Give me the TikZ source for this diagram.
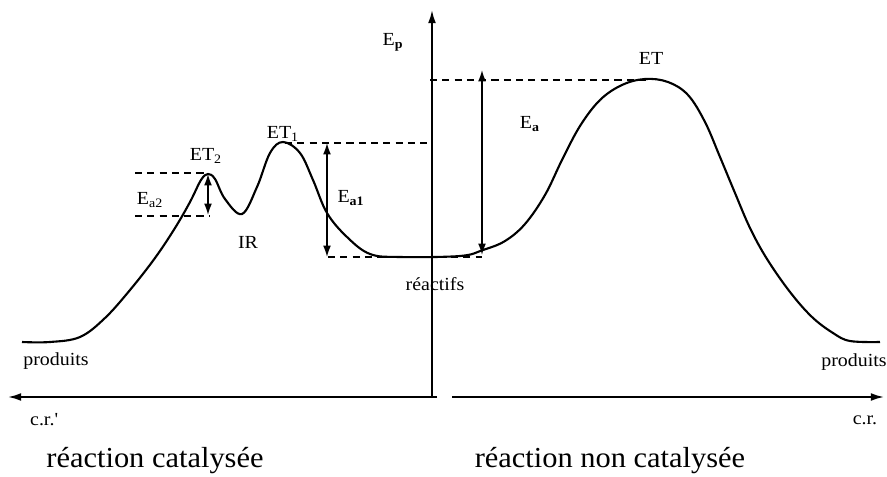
\documentclass[tikz,border=0pt]{standalone}
\usepackage{fontspec}
\setmainfont[FakeStretch=1.08]{Liberation Serif}
\newfontfamily\titrefont[FakeStretch=1.05]{Liberation Serif}
\usepackage{tikz}
\usetikzlibrary{arrows.meta}

\begin{document}
\begin{tikzpicture}[
    x=0.02cm, y=-0.02cm,
    lbl/.style={font=\fontsize{10.5}{12}\selectfont, inner sep=1pt},
    titre/.style={font=\titrefont\fontsize{16.5}{19}\selectfont, inner sep=1pt},
    axe/.style={line width=1.1pt, -{Latex[length=7.5pt,width=4.5pt]}},
    niveau/.style={line width=0.8pt, dash pattern=on 4pt off 3pt},
    barriere/.style={line width=0.9pt, {Latex[length=6.5pt,width=4.5pt]}-{Latex[length=6.5pt,width=4.5pt]}},
    courbe/.style={line width=1.2pt, smooth, tension=0.6}
  ]
  \useasboundingbox (0,0) rectangle (887,477);

  % Axes
  \coordinate (o) at (432,398);
  \coordinate (ytop) at (432,10);
  \coordinate (gd) at (437,397);
  \coordinate (gg) at (8,397);
  \coordinate (dd) at (452,397);
  \coordinate (df) at (884,397);
  \draw[axe] (o) -- (ytop);
  \draw[axe] (gd) -- (gg);
  \draw[axe] (dd) -- (df);

  % Profil d'energie
  \draw[courbe] plot coordinates {(22,342) (50,342) (80,337) (105,318) (130,290)
    (155,258) (175,228) (190,202) (201,180) (208,174) (215,179) (225,199)
    (242,214) (257,187) (270,153) (283,142) (300,153) (313,180) (327,213)
    (347,237) (370,254) (400,257) (460,256) (483,250) (505,241) (525,224)
    (545,195) (562,160) (580,126) (600,100) (622,85) (645,79) (668,82)
    (688,95) (705,122) (720,157) (735,193) (750,228) (767,259) (790,292)
    (812,317) (833,333) (850,341) (880,342)};

  % Niveaux
  \coordinate (et2g) at (135,173);
  \coordinate (et2) at (208,173);
  \coordinate (irg) at (135,216);
  \coordinate (ir) at (210,216);
  \coordinate (et1) at (285,143);
  \coordinate (et1d) at (428,143);
  \coordinate (reg) at (328,257);
  \coordinate (red) at (482,257);
  \coordinate (etg) at (430,80);
  \coordinate (et) at (648,80);
  \draw[niveau] (et2g) -- (et2);
  \draw[niveau] (irg) -- (ir);
  \draw[niveau] (et1) -- (et1d);
  \draw[niveau] (reg) -- (red);
  \draw[niveau] (etg) -- (et);

  % Energies d'activation
  \coordinate (ea2h) at (208,174);
  \coordinate (ea2b) at (208,215);
  \coordinate (ea1h) at (327,143);
  \coordinate (ea1b) at (327,257);
  \coordinate (eah) at (482,70);
  \coordinate (eab) at (482,255);
  \draw[barriere] (ea2h) -- (ea2b);
  \draw[barriere] (ea1h) -- (ea1b);
  \draw[barriere] (eah) -- (eab);

  % Etiquettes
  \node[lbl] (ep) at (393,42) {E\textsubscript{\textbf{p}}};
  \node[lbl] (lt2) at (206,156) {ET\textsubscript{2}};
  \node[lbl] (la2) at (150,200) {E\textsubscript{a2}};
  \node[lbl] (lir) at (248,242) {IR};
  \node[lbl] (lt1) at (283,134) {ET\textsubscript{1}};
  \node[lbl] (la1) at (351,198) {E\textsubscript{\textbf{a1}}};
  \node[lbl] (lre) at (435,284) {réactifs};
  \node[lbl] (la) at (530,124) {E\textsubscript{\textbf{a}}};
  \node[lbl] (lt) at (651,58) {ET};
  \node[lbl] (lpg) at (56,361) {produits};
  \node[lbl] (lpd) at (854,362) {produits};
  \node[lbl] (crg) at (44,420) {c.r.\textquotesingle};
  \node[lbl] (crd) at (865,420) {c.r.};

  \node[titre] (cat) at (155,461) {réaction catalysée};
  \node[titre] (ncat) at (610,461) {réaction non catalysée};
\end{tikzpicture}
\end{document}
